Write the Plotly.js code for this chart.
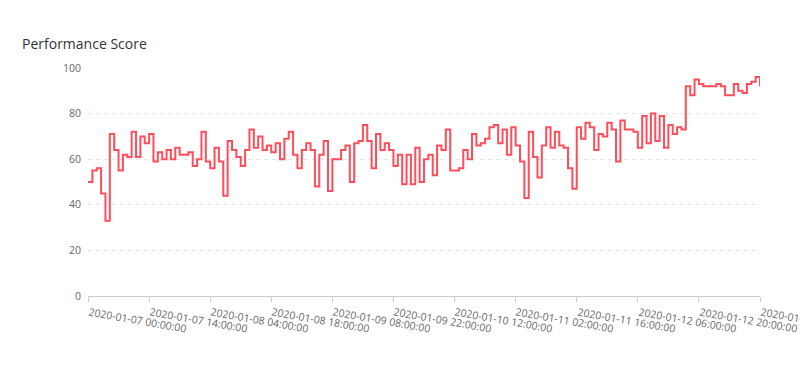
<!DOCTYPE html>
<html>
<head>
<meta charset="utf-8">
<script src="https://cdn.plot.ly/plotly-3.0.1.min.js"></script>
<style>html,body{margin:0;padding:0;background:#fff;}#chart{width:800px;height:368px;}</style>
</head>
<body>
<div id="chart"></div>
<script>
// Hourly readings starting 2020-01-07 00:00:00
const startTime = '2020-01-07T00:00:00';
const scores = [50,55,56,45,33,71,64,55,62,61,72,61,70,67,71,59,63,60,64,60,65,62,62,63,57,60,72,59,56,65,59,44,68,64,61,57,64,73,65,70,64,66,63,67,60,69,72,62,56,64,67,64,48,62,68,46,60,60,64,66,50,67,68,75,68,56,71,64,67,64,57,62,49,62,49,65,50,60,62,53,66,64,73,55,55,56,64,60,71,66,67,69,74,75,67,73,62,74,66,59,43,72,61,52,66,74,65,72,66,65,56,47,74,69,76,74,64,71,70,76,73,59,77,73,73,72,65,79,67,80,68,79,65,75,71,74,73,92,88,95,93,92,92,92,93,92,88,88,93,90,89,93,94,96,92];
const tickLabels = ['2020-01-07 00:00:00','2020-01-07 14:00:00','2020-01-08 04:00:00','2020-01-08 18:00:00','2020-01-09 08:00:00','2020-01-09 22:00:00','2020-01-10 12:00:00','2020-01-11 02:00:00','2020-01-11 16:00:00','2020-01-12 06:00:00','2020-01-12 20:00:00','2020-01-13 10:00:00'];
const yTicks = [0,20,40,60,80,100];

function pad(n){return (n<10?'0':'')+n;}
function fmt(d){return d.getUTCFullYear()+'-'+pad(d.getUTCMonth()+1)+'-'+pad(d.getUTCDate())+' '+pad(d.getUTCHours())+':'+pad(d.getUTCMinutes())+':'+pad(d.getUTCSeconds());}
const t0 = new Date(startTime+'Z').getTime();
const times = scores.map((_, i) => fmt(new Date(t0 + i*3600000)));

const font = '"Open Sans", Lato, sans-serif';
const tickAnn = tickLabels.map(t => ({
  x: t, xref: 'x', y: 0, yref: 'paper',
  text: t, showarrow: false, textangle: 10,
  xanchor: 'left', yanchor: 'top', xshift: -3, yshift: -6,
  font: {family: font, size: 10.5, color: '#666'}
}));

Plotly.newPlot('chart', [{
  x: times, y: scores, type: 'scatter', mode: 'lines',
  line: {shape: 'hv', color: '#ff4d5b', width: 2},
  hoverinfo: 'x+y'
}], {
  width: 800, height: 368,
  margin: {l: 88, r: 40, t: 68, b: 72},
  paper_bgcolor: '#fff', plot_bgcolor: '#fff',
  showlegend: false,
  font: {family: font, color: '#666', size: 11},
  title: {text: 'Performance Score', xref: 'container', yref: 'container', x: 22/800, xanchor: 'left', y: 1-44/368, yanchor: 'middle', font: {family: font, size: 14, color: '#333'}},
  annotations: tickAnn,
  xaxis: {
    type: 'category',
    range: [0, times.length-1],
    tickmode: 'array', tickvals: tickLabels, showticklabels: false,
    ticks: 'outside', ticklen: 5, tickcolor: '#ccc',
    showline: true, linecolor: '#ccc', linewidth: 1,
    showgrid: false, zeroline: false, automargin: false
  },
  yaxis: {
    range: [0, 100], tickmode: 'array', tickvals: yTicks,
    showgrid: true, gridcolor: '#e6e6e6', griddash: '4px,4px', gridwidth: 1,
    zeroline: false, showline: false, ticks: '',
    ticklabelstandoff: 6,
    tickfont: {family: font, size: 10.5, color: '#666'}
  }
}, {displayModeBar: false, staticPlot: true});
</script>
</body>
</html>
